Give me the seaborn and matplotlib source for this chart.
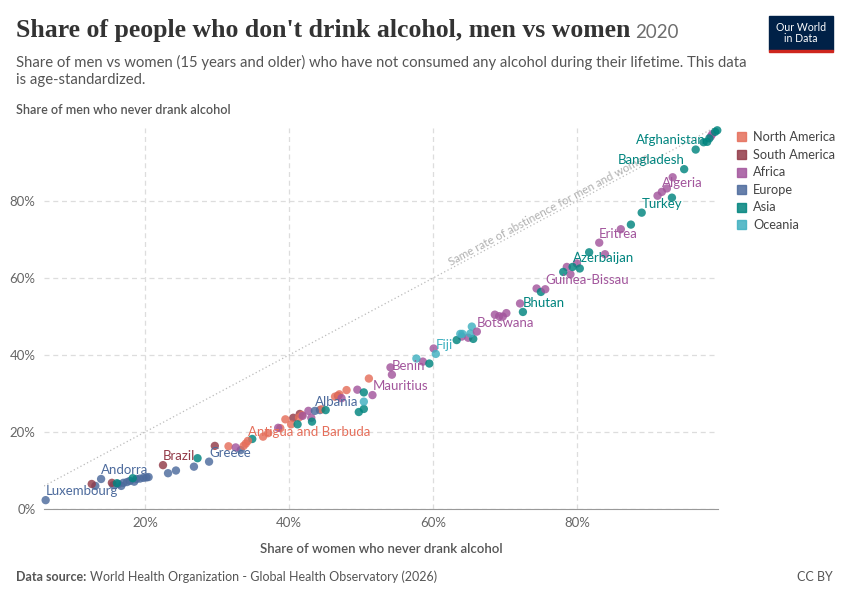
import numpy as np
import pandas as pd
import matplotlib
matplotlib.use('Agg')
import matplotlib.pyplot as plt
import seaborn as sns
from matplotlib.patches import Rectangle

# labelled countries: share of women / men who never drank alcohol (%)
label_names = ['Luxembourg', 'Andorra', 'Brazil', 'Greece', 'Antigua and Barbuda',
               'Albania', 'Mauritius', 'Benin', 'Fiji', 'Botswana', 'Bhutan',
               'Guinea-Bissau', 'Azerbaijan', 'Eritrea', 'Turkey', 'Algeria',
               'Bangladesh', 'Afghanistan']
label_regions = ['Europe', 'Europe', 'South America', 'Europe', 'North America',
                 'Europe', 'Africa', 'Africa', 'Oceania', 'Africa', 'Asia',
                 'Africa', 'Asia', 'Africa', 'Asia', 'Africa', 'Asia', 'Asia']
label_women = [6.2, 13.9, 22.5, 28.9, 34.3, 43.6, 51.6, 54.3, 60.4, 66.1, 72.5,
               75.6, 79.4, 83.1, 89.0, 91.8, 94.9, 98.1]
label_men = [2.3, 7.8, 11.4, 12.3, 17.7, 25.5, 29.6, 34.9, 40.3, 46.1, 51.2,
             57.1, 62.9, 69.2, 77.0, 82.4, 88.3, 95.4]

# the other countries, by region
europe_women = [13.1, 15.6, 16.3, 16.7, 17.0, 17.5, 17.9, 18.5, 18.8, 19.3, 19.8,
                20.2, 20.5, 23.2, 24.3, 26.8, 33.3, 44.3]
europe_men = [6.0, 6.2, 6.5, 6.0, 6.8, 7.0, 7.3, 7.1, 7.8, 7.9, 8.1,
              8.2, 8.3, 9.3, 10.0, 11.0, 15.3, 25.7]
samerica_women = [12.6, 15.4, 29.7, 40.6, 41.5, 46.8]
samerica_men = [6.5, 6.8, 16.4, 23.7, 24.7, 29.4]
namerica_women = [31.6, 33.7, 34.0, 36.4, 37.1, 38.8, 39.5, 40.3, 41.4, 41.8,
                  44.5, 46.4, 47.0, 48.0, 51.1]
namerica_men = [16.3, 16.4, 17.0, 18.8, 19.7, 21.0, 23.3, 22.0, 23.8, 24.4,
                25.9, 29.2, 29.8, 30.9, 33.9]
africa_women = [32.6, 38.5, 41.9, 42.7, 43.1, 47.3, 49.5, 54.1, 58.6, 60.1, 64.0,
                64.9, 68.6, 69.2, 69.7, 70.2, 72.1, 74.4, 78.6, 80.0, 79.1, 83.9,
                86.1, 91.2, 92.5, 93.3, 98.6, 98.8]
africa_men = [16.0, 21.1, 24.2, 25.5, 23.7, 28.8, 31.0, 36.8, 38.3, 41.7, 44.8,
              44.5, 50.5, 50.1, 50.0, 50.9, 53.4, 57.3, 62.9, 63.8, 61.0, 66.2,
              72.7, 81.4, 83.3, 86.2, 96.8, 97.4]
asia_women = [16.1, 18.3, 27.3, 34.9, 41.2, 43.2, 45.1, 49.7, 50.4, 50.4, 59.5,
              63.3, 65.6, 75.0, 78.1, 80.4, 81.7, 87.5, 93.2, 96.5, 97.6, 98.4,
              99.2, 99.5]
asia_men = [6.7, 8.0, 13.2, 18.2, 22.0, 22.7, 25.7, 25.2, 26.0, 30.3, 37.8,
            43.9, 44.2, 56.4, 61.6, 62.5, 66.7, 73.9, 80.9, 93.4, 95.3, 96.3,
            98.0, 98.4]
oceania_women = [50.4, 57.7, 63.8, 64.1, 65.4, 65.2]
oceania_men = [27.9, 39.1, 45.5, 45.5, 47.4, 45.6]

regions = ['North America', 'South America', 'Africa', 'Europe', 'Asia', 'Oceania']
colors = {'North America': '#e56e5a', 'South America': '#923a48', 'Africa': '#a2559c',
          'Europe': '#4c6a9c', 'Asia': '#00847e', 'Oceania': '#3fb0c0'}

parts = [
    ('Europe', europe_women, europe_men),
    ('South America', samerica_women, samerica_men),
    ('North America', namerica_women, namerica_men),
    ('Africa', africa_women, africa_men),
    ('Asia', asia_women, asia_men),
    ('Oceania', oceania_women, oceania_men),
]
frames = [pd.DataFrame({'women': w, 'men': m, 'region': r}) for r, w, m in parts]
frames.append(pd.DataFrame({'women': label_women, 'men': label_men,
                            'region': label_regions}))
df = pd.concat(frames, ignore_index=True)

sns.set_style('white')
plt.rcParams['font.family'] = ['Lato', 'DejaVu Sans']

fig = plt.figure(figsize=(8.5, 6), dpi=100)
ax = fig.add_axes([44 / 850, 1 - 509 / 600, 674 / 850, 381 / 600])

ax.plot([0, 100], [0, 100], color='#bbbbbb', lw=0.9, ls=(0, (1, 2)), zorder=1)

sns.scatterplot(data=df, x='women', y='men', hue='region', palette=colors,
                s=36, alpha=0.82, linewidth=0, legend=False, ax=ax, zorder=3,
                clip_on=False)

ax.set_xlim(5.97, 99.6)
ax.set_ylim(0, 99)

ax.text(76.4, 76.6, 'Same rate of abstinence for men and women',
        rotation=45, transform_rotates_text=True, rotation_mode='anchor',
        ha='center', va='bottom', fontsize=8.3, color='#b0b0b0', zorder=2)

# country labels
for name, reg, w, m in zip(label_names, label_regions, label_women, label_men):
    if name == 'Afghanistan':
        ax.annotate(name, (w, m), xytext=(-1, 2), textcoords='offset pixels',
                    ha='right', va='center', fontsize=9.5, color=colors[reg], zorder=4)
    elif name == 'Bangladesh':
        ax.annotate(name, (w, m), xytext=(0, 9), textcoords='offset pixels',
                    ha='right', va='center', fontsize=9.5, color=colors[reg], zorder=4)
    else:
        ax.annotate(name, (w, m), xytext=(0, 9), textcoords='offset pixels',
                    ha='left', va='center', fontsize=9.5, color=colors[reg], zorder=4)

ticks = [20, 40, 60, 80]
ax.set_xticks(ticks)
ax.set_xticklabels([f'{t}%' for t in ticks])
ax.set_yticks([0, 20, 40, 60, 80])
ax.set_yticklabels([f'{t}%' for t in [0, 20, 40, 60, 80]])
ax.grid(True, color='#dddddd', ls=(0, (4, 3)), lw=0.9)
ax.set_axisbelow(True)
for side in ['top', 'right', 'left']:
    ax.spines[side].set_visible(False)
ax.spines['bottom'].set_color('#999999')
ax.tick_params(axis='both', length=0, labelsize=9.5, labelcolor='#666666', pad=6)
ax.set_xlabel('Share of women who never drank alcohol', fontsize=9.5,
              color='#555555', fontweight='semibold', labelpad=10)
ax.set_ylabel('')

# legend
for i, reg in enumerate(regions):
    yy = 1 - (137 + i * 17.6) / 600
    fig.patches.append(Rectangle((737 / 850, yy - 4.5 / 600), 9 / 850, 9 / 600,
                                 transform=fig.transFigure, color=colors[reg],
                                 alpha=0.85))
    fig.text(753 / 850, yy, reg, fontsize=9.2, color='#444444', va='center')

# titles
title = fig.text(16 / 850, 1 - 31 / 600,
                 "Share of people who don't drink alcohol, men vs women",
                 fontsize=18.5, family='Liberation Serif', fontweight='bold',
                 color='#333333', va='center')
fig.canvas.draw()
bb = title.get_window_extent()
fig.text((bb.x1 + 5) / 850, 1 - 33 / 600, '2020', fontsize=13.5, color='#6e6e6e',
         va='center')
fig.text(16 / 850, 1 - 62 / 600,
         'Share of men vs women (15 years and older) who have not consumed any alcohol '
         'during their lifetime. This data',
         fontsize=10.7, color='#555555', va='center')
fig.text(16 / 850, 1 - 80 / 600, 'is age-standardized.', fontsize=10.7,
         color='#555555', va='center')
fig.text(16 / 850, 1 - 110 / 600, 'Share of men who never drank alcohol', fontsize=9,
         color='#555555', va='center', fontweight='semibold')

# logo
fig.patches.append(Rectangle((769 / 850, 1 - 50 / 600), 64 / 850, 34 / 600,
                             transform=fig.transFigure, color='#002147'))
fig.patches.append(Rectangle((769 / 850, 1 - 52 / 600), 64 / 850, 2.5 / 600,
                             transform=fig.transFigure, color='#ce261e'))
fig.text(801 / 850, 1 - 33 / 600, 'Our World\nin Data', fontsize=7.6, color='white',
         ha='center', va='center', linespacing=1.0)

# footer
fig.text(16 / 850, 1 - 577 / 600, 'Data source:', fontsize=9, color='#555555',
         va='center', fontweight='bold')
fig.text(90 / 850, 1 - 577 / 600,
         'World Health Organization - Global Health Observatory (2026)',
         fontsize=9, color='#555555', va='center')
fig.text(833 / 850, 1 - 577 / 600, 'CC BY', fontsize=9, color='#555555',
         va='center', ha='right')

fig.savefig('out.png', dpi=100)
